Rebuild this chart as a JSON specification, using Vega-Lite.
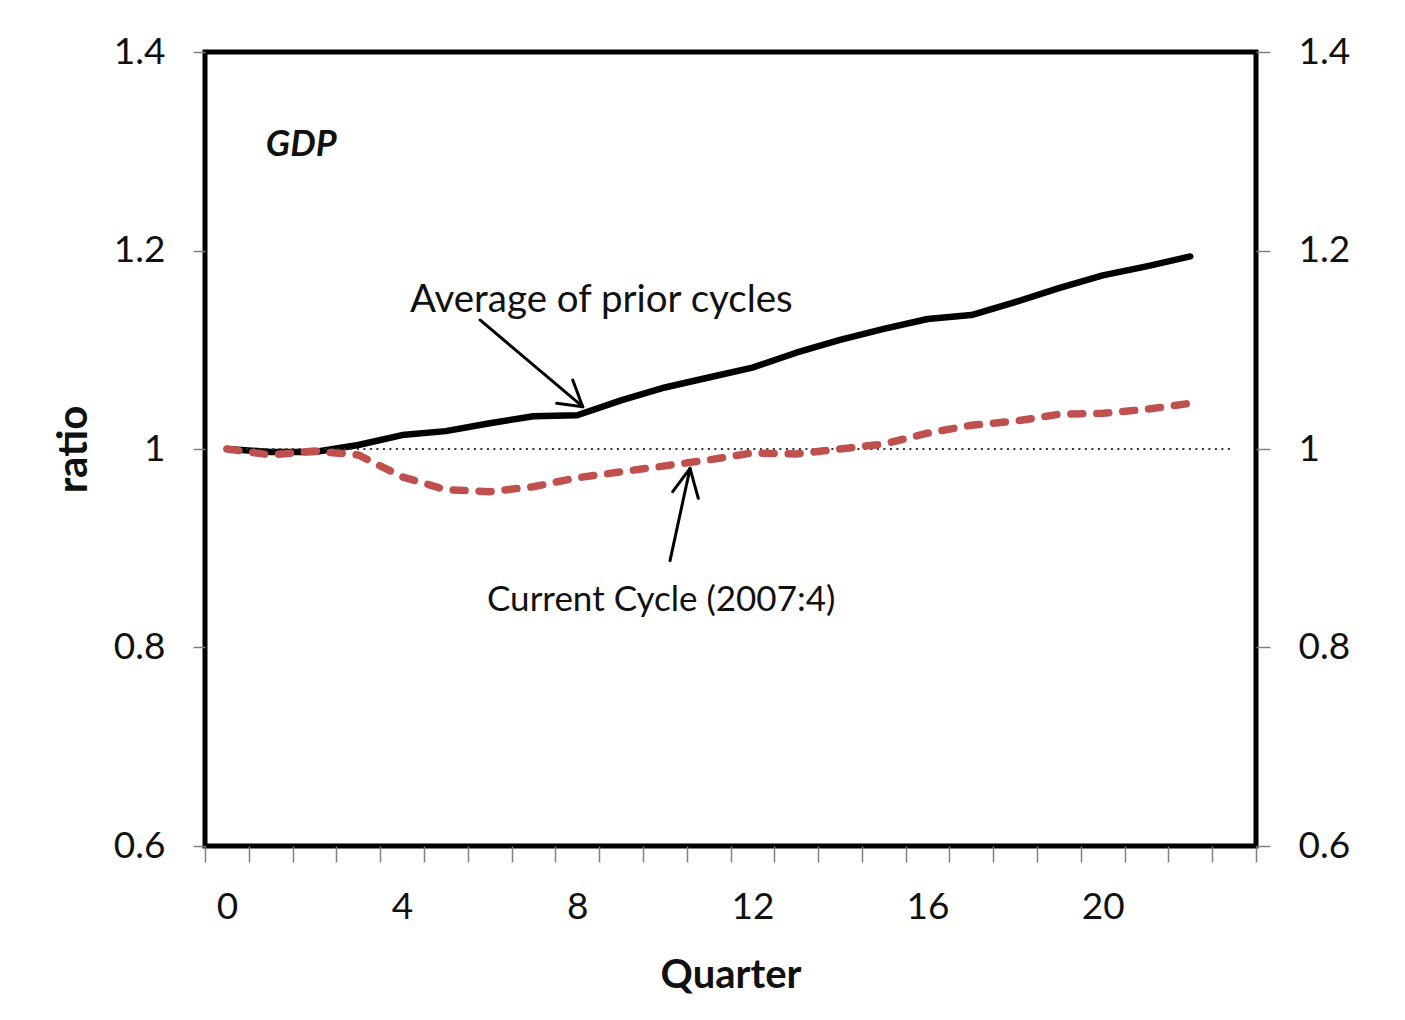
{
  "$schema": "https://vega.github.io/schema/vega-lite/v6.json",
  "autosize": {"type": "none"},
  "padding": {"left": 205, "top": 52, "right": 149, "bottom": 174},
  "width": 1051,
  "height": 794,
  "background": "white",
  "config": {
    "view": {"stroke": "black", "strokeWidth": 5},
    "font": "Lato",
    "axis": {"domain": false, "grid": false, "labelFont": "Lato", "titleFont": "Lato", "labelColor": "#111", "titleColor": "#111", "tickColor": "#808080", "tickWidth": 1.5}
  },
  "resolve": {"axis": {"x": "independent", "y": "independent"}},
  "datasets": {
    "gdp": [
      {"q": 0, "series": "Average of prior cycles", "value": 1.000},
      {"q": 1, "series": "Average of prior cycles", "value": 0.997},
      {"q": 2, "series": "Average of prior cycles", "value": 0.997},
      {"q": 3, "series": "Average of prior cycles", "value": 1.004},
      {"q": 4, "series": "Average of prior cycles", "value": 1.014},
      {"q": 5, "series": "Average of prior cycles", "value": 1.018},
      {"q": 6, "series": "Average of prior cycles", "value": 1.026},
      {"q": 7, "series": "Average of prior cycles", "value": 1.033},
      {"q": 8, "series": "Average of prior cycles", "value": 1.034},
      {"q": 9, "series": "Average of prior cycles", "value": 1.049},
      {"q": 10, "series": "Average of prior cycles", "value": 1.062},
      {"q": 11, "series": "Average of prior cycles", "value": 1.072},
      {"q": 12, "series": "Average of prior cycles", "value": 1.082},
      {"q": 13, "series": "Average of prior cycles", "value": 1.097},
      {"q": 14, "series": "Average of prior cycles", "value": 1.110},
      {"q": 15, "series": "Average of prior cycles", "value": 1.121},
      {"q": 16, "series": "Average of prior cycles", "value": 1.131},
      {"q": 17, "series": "Average of prior cycles", "value": 1.135},
      {"q": 18, "series": "Average of prior cycles", "value": 1.148},
      {"q": 19, "series": "Average of prior cycles", "value": 1.162},
      {"q": 20, "series": "Average of prior cycles", "value": 1.175},
      {"q": 21, "series": "Average of prior cycles", "value": 1.184},
      {"q": 22, "series": "Average of prior cycles", "value": 1.194},
      {"q": 0, "series": "Current Cycle (2007:4)", "value": 1.000},
      {"q": 1, "series": "Current Cycle (2007:4)", "value": 0.994},
      {"q": 2, "series": "Current Cycle (2007:4)", "value": 0.998},
      {"q": 3, "series": "Current Cycle (2007:4)", "value": 0.994},
      {"q": 4, "series": "Current Cycle (2007:4)", "value": 0.972},
      {"q": 5, "series": "Current Cycle (2007:4)", "value": 0.959},
      {"q": 6, "series": "Current Cycle (2007:4)", "value": 0.957},
      {"q": 7, "series": "Current Cycle (2007:4)", "value": 0.962},
      {"q": 8, "series": "Current Cycle (2007:4)", "value": 0.971},
      {"q": 9, "series": "Current Cycle (2007:4)", "value": 0.977},
      {"q": 10, "series": "Current Cycle (2007:4)", "value": 0.983},
      {"q": 11, "series": "Current Cycle (2007:4)", "value": 0.989},
      {"q": 12, "series": "Current Cycle (2007:4)", "value": 0.996},
      {"q": 13, "series": "Current Cycle (2007:4)", "value": 0.995},
      {"q": 14, "series": "Current Cycle (2007:4)", "value": 1.000},
      {"q": 15, "series": "Current Cycle (2007:4)", "value": 1.005},
      {"q": 16, "series": "Current Cycle (2007:4)", "value": 1.016},
      {"q": 17, "series": "Current Cycle (2007:4)", "value": 1.024},
      {"q": 18, "series": "Current Cycle (2007:4)", "value": 1.028},
      {"q": 19, "series": "Current Cycle (2007:4)", "value": 1.035},
      {"q": 20, "series": "Current Cycle (2007:4)", "value": 1.036},
      {"q": 21, "series": "Current Cycle (2007:4)", "value": 1.040},
      {"q": 22, "series": "Current Cycle (2007:4)", "value": 1.046}
    ]
  },
  "layer": [
    {
      "data": {"name": "gdp"},
      "transform": [{"filter": "datum.series === 'Average of prior cycles'"}],
      "mark": {"type": "line", "color": "black", "strokeWidth": 6.5, "strokeJoin": "round", "strokeCap": "round"},
      "encoding": {
        "x": {"field": "q", "type": "quantitative",
          "scale": {"domain": [-0.5, 23.5], "nice": false, "zero": false},
          "axis": {"orient": "bottom", "values": [-0.5, 0.5, 1.5, 2.5, 3.5, 4.5, 5.5, 6.5, 7.5, 8.5, 9.5, 10.5, 11.5, 12.5, 13.5, 14.5, 15.5, 16.5, 17.5, 18.5, 19.5, 20.5, 21.5, 22.5, 23.5], "labels": false, "tickSize": 16, "title": null}},
        "y": {"field": "value", "type": "quantitative",
          "scale": {"domain": [0.6, 1.4], "nice": false, "zero": false},
          "axis": {"orient": "left", "values": [0.6, 0.8, 1, 1.2, 1.4], "format": "~g", "tickSize": 12, "labelPadding": 28, "labelFontSize": 37, "title": "ratio", "titleFontSize": 42, "titleFontWeight": "bold", "titlePadding": 18}}
      }
    },
    {
      "data": {"values": [{"x": 0, "x2": 23, "y": 1}]},
      "mark": {"type": "rule", "color": "#333", "strokeWidth": 2, "strokeDash": [2, 4.5]},
      "encoding": {
        "x": {"field": "x", "type": "quantitative",
          "axis": {"orient": "bottom", "values": [0, 4, 8, 12, 16, 20], "ticks": false, "tickSize": 0, "labelPadding": 43, "labelFontSize": 37, "title": "Quarter", "titleFontSize": 40, "titleFontWeight": "bold", "titlePadding": 30}},
        "x2": {"field": "x2"},
        "y": {"field": "y", "type": "quantitative",
          "axis": {"orient": "right", "values": [0.6, 0.8, 1, 1.2, 1.4], "format": "~g", "tickSize": 14, "labelPadding": 28, "labelFontSize": 37, "title": null}}
      }
    },
    {
      "data": {"name": "gdp"},
      "transform": [{"filter": "datum.series === 'Current Cycle (2007:4)'"}],
      "mark": {"type": "line", "color": "#C0504D", "strokeWidth": 7.5, "strokeDash": [12, 14], "strokeCap": "round", "strokeJoin": "round"},
      "encoding": {
        "x": {"field": "q", "type": "quantitative", "axis": null},
        "y": {"field": "value", "type": "quantitative", "axis": null}
      }
    },
    {
      "data": {"values": [
        {"x": 5.78, "y": 1.130, "x2": 8.125, "y2": 1.0426},
        {"x": 7.531, "y": 1.046, "x2": 8.125, "y2": 1.0426},
        {"x": 7.897, "y": 1.0695, "x2": 8.125, "y2": 1.0426},
        {"x": 10.119, "y": 0.8875, "x2": 10.576, "y2": 0.9805},
        {"x": 10.180, "y": 0.957, "x2": 10.576, "y2": 0.9805},
        {"x": 10.765, "y": 0.9503, "x2": 10.576, "y2": 0.9805}
      ]},
      "mark": {"type": "rule", "color": "black", "strokeWidth": 3, "strokeCap": "round"},
      "encoding": {
        "x": {"field": "x", "type": "quantitative", "axis": null},
        "y": {"field": "y", "type": "quantitative", "axis": null},
        "x2": {"field": "x2"},
        "y2": {"field": "y2"}
      }
    },
    {
      "data": {"values": [
        {"label": "Average of prior cycles", "x": 4.18, "y": 1.150, "size": 38.5},
        {"label": "Current Cycle (2007:4)", "x": 5.94, "y": 0.848, "size": 35}
      ]},
      "mark": {"type": "text", "align": "left", "baseline": "middle", "font": "Lato", "color": "#111"},
      "encoding": {
        "x": {"field": "x", "type": "quantitative", "axis": null},
        "y": {"field": "y", "type": "quantitative", "axis": null},
        "size": {"field": "size", "type": "quantitative", "scale": null, "legend": null},
        "text": {"field": "label"}
      }
    },
    {
      "data": {"values": [{"label": "GDP", "x": 0.89, "y": 1.306}]},
      "mark": {"type": "text", "align": "left", "baseline": "middle", "fontSize": 36, "font": "Lato", "fontWeight": "bold", "fontStyle": "italic", "color": "#111"},
      "encoding": {
        "x": {"field": "x", "type": "quantitative", "axis": null},
        "y": {"field": "y", "type": "quantitative", "axis": null},
        "text": {"field": "label"}
      }
    }
  ]
}
